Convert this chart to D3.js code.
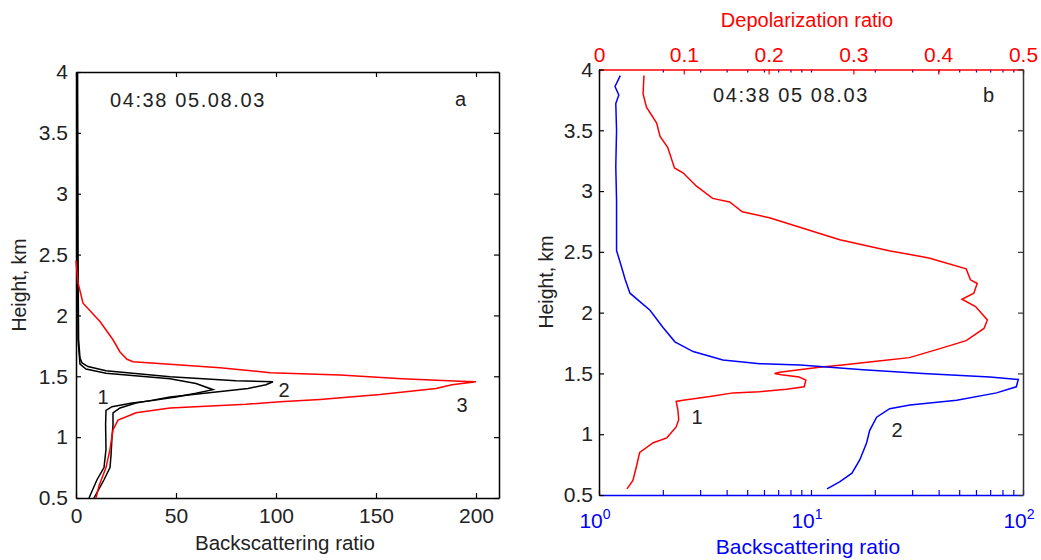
<!DOCTYPE html>
<html>
<head>
<title>Backscattering and depolarization profiles</title>
<script src="https://cdn.jsdelivr.net/npm/d3@7"></script>
<style>
  body { margin: 0; background: #fff; }
  svg text { font-family: "Liberation Sans", Arial, sans-serif; }
  .tick line { stroke-width: 1.2; }
</style>
</head>
<body>
<div id="chart"></div>
<script>
// ---- panel a: backscattering ratio profiles (linear) ----
var heightTicks = [0.5, 1, 1.5, 2, 2.5, 3, 3.5, 4];
var bsrTicks = [0, 50, 100, 150, 200];

var curve1H = [4.0, 2.5, 1.8, 1.7, 1.6, 1.56, 1.525, 1.48, 1.44, 1.39, 1.36, 1.33, 1.30, 1.28, 1.25, 1.22, 1.1, 0.9, 0.75, 0.65, 0.5];
var curve1X = [0.6, 0.8, 1, 1.5, 2, 5, 15, 47, 60, 68.5, 60, 50, 38, 28, 18, 15, 14.8, 15, 14, 10.5, 6.5];

var curve2H = [4.0, 2.5, 1.8, 1.65, 1.61, 1.58, 1.546, 1.497, 1.464, 1.455, 1.43, 1.4, 1.37, 1.33, 1.3, 1.28, 1.24, 1.2, 1.1, 1.0, 0.85, 0.75, 0.65, 0.59, 0.5];
var curve2X = [0.8, 1.0, 1.3, 2, 3, 6, 15, 47, 80, 98.5, 95, 86, 70, 47, 37, 30, 22, 18.5, 18.5, 18, 17.5, 17, 14, 12, 9];

var curve3H = [2.45, 2.27, 2.1, 1.95, 1.8, 1.7, 1.64, 1.62, 1.6, 1.57, 1.53, 1.51, 1.48, 1.46, 1.455, 1.43, 1.40, 1.35, 1.31, 1.29, 1.27, 1.24, 1.2, 1.18, 1.14, 1.06, 0.9, 0.75, 0.6, 0.5];
var curve3X = [0, 1, 3.5, 12, 18.5, 22, 25.5, 28.5, 45, 72, 97, 132, 163, 192, 200, 188, 180, 152, 122, 102, 85, 47, 30, 27, 21, 18.5, 17, 15, 11.5, 10];

// ---- panel b: backscattering ratio (log) and depolarization ratio ----
var logTicks = [1, 10, 100];
var depolTicks = [0, 0.1, 0.2, 0.3, 0.4, 0.5];

var bsrH = [3.95, 3.86, 3.79, 3.72, 3.5, 3.2, 2.93, 2.51, 2.41, 2.27, 2.16, 2.02, 1.88, 1.76, 1.68, 1.61, 1.58, 1.57, 1.53, 1.50, 1.47, 1.45, 1.39, 1.34, 1.28, 1.24, 1.21, 1.14, 1.03, 0.93, 0.79, 0.68, 0.61, 0.55];
var bsrX = [1.26, 1.19, 1.24, 1.20, 1.21, 1.20, 1.21, 1.21, 1.26, 1.33, 1.40, 1.74, 2.0, 2.28, 2.78, 3.84, 5.74, 8.9, 17.6, 33.7, 69.8, 95, 93, 75, 48.7, 29.3, 23.5, 20.4, 18.9, 18.3, 17, 15.6, 13.7, 11.9];

var depH = [3.95, 3.80, 3.69, 3.56, 3.45, 3.36, 3.19, 3.15, 3.04, 2.94, 2.91, 2.83, 2.78, 2.71, 2.60, 2.51, 2.45, 2.36, 2.27, 2.24, 2.16, 2.11, 2.05, 1.94, 1.87, 1.77, 1.71, 1.63, 1.60, 1.57, 1.55, 1.53, 1.51, 1.50, 1.49, 1.47, 1.445, 1.39, 1.37, 1.35, 1.34, 1.31, 1.28, 1.27, 1.20, 1.12, 1.06, 0.97, 0.93, 0.85, 0.73, 0.62, 0.55];
var depX = [0.053, 0.052, 0.056, 0.068, 0.072, 0.081, 0.089, 0.099, 0.115, 0.134, 0.154, 0.169, 0.201, 0.233, 0.284, 0.342, 0.389, 0.433, 0.438, 0.446, 0.442, 0.428, 0.444, 0.458, 0.454, 0.433, 0.405, 0.366, 0.327, 0.287, 0.26, 0.236, 0.213, 0.207, 0.215, 0.236, 0.244, 0.242, 0.221, 0.189, 0.158, 0.131, 0.099, 0.091, 0.093, 0.094, 0.091, 0.080, 0.064, 0.048, 0.044, 0.040, 0.033];

var width = 1041, height = 560;
var fmt = d3.format("~g");

var svg = d3.select("#chart").append("svg")
  .attr("width", width)
  .attr("height", height);

function pairs(hs, xs) {
  return hs.map(function(h, i) { return { h: h, v: xs[i] }; });
}

// ================= panel a =================
var xa = d3.scaleLinear().domain([0, 211.5]).range([76, 499]);
var ya = d3.scaleLinear().domain([0.5, 4]).range([498, 72]);

var ga = svg.append("g");

ga.append("g").attr("transform", "translate(0,498)")
  .call(d3.axisBottom(xa).tickValues(bsrTicks).tickSize(-5).tickSizeOuter(0).tickPadding(10).tickFormat(fmt));
ga.append("g").attr("transform", "translate(0,72)")
  .call(d3.axisTop(xa).tickValues(bsrTicks).tickSize(-5).tickSizeOuter(0).tickFormat(""));
ga.append("g").attr("transform", "translate(76,0)")
  .call(d3.axisLeft(ya).tickValues(heightTicks).tickSize(-5).tickSizeOuter(0).tickPadding(8).tickFormat(fmt));
ga.append("g").attr("transform", "translate(499,0)")
  .call(d3.axisRight(ya).tickValues(heightTicks).tickSize(-5).tickSizeOuter(0).tickFormat(""));

ga.selectAll(".domain").attr("stroke", "#000").attr("stroke-width", 1.5);
ga.selectAll(".tick line").attr("stroke", "#000");
ga.selectAll(".tick text").attr("fill", "#222").style("font-size", "21px").attr("font-family", null);

var lineA = d3.line().x(function(d) { return xa(d.v); }).y(function(d) { return ya(d.h); });

[[curve1H, curve1X, "#000"], [curve2H, curve2X, "#000"], [curve3H, curve3X, "#ff0000"]].forEach(function(c) {
  ga.append("path")
    .datum(pairs(c[0], c[1]))
    .attr("fill", "none")
    .attr("stroke", c[2])
    .attr("stroke-width", 1.5)
    .attr("d", lineA);
});

ga.append("text").attr("x", 110).attr("y", 107)
  .style("font-size", "20px").style("letter-spacing", "1.6px").attr("fill", "#222")
  .text("04:38 05.08.03");
ga.append("text").attr("x", 455).attr("y", 106)
  .style("font-size", "20px").attr("fill", "#222").text("a");

ga.append("text").attr("x", 103).attr("y", 404).attr("text-anchor", "middle")
  .style("font-size", "20px").attr("fill", "#222").text("1");
ga.append("text").attr("x", 284).attr("y", 397).attr("text-anchor", "middle")
  .style("font-size", "20px").attr("fill", "#222").text("2");
ga.append("text").attr("x", 462).attr("y", 412).attr("text-anchor", "middle")
  .style("font-size", "20px").attr("fill", "#222").text("3");

ga.append("text").attr("x", 285).attr("y", 550).attr("text-anchor", "middle")
  .style("font-size", "20.5px").attr("fill", "#222").text("Backscattering ratio");
ga.append("text").attr("transform", "translate(26,285) rotate(-90)").attr("text-anchor", "middle")
  .style("font-size", "19.5px").attr("fill", "#222").text("Height, km");

// ================= panel b =================
var xb = d3.scaleLog().domain([1, 100]).range([599, 1023]);
var xd = d3.scaleLinear().domain([0, 0.5]).range([599, 1023]);
var yb = d3.scaleLinear().domain([0.5, 4]).range([495, 69.5]);

var gb = svg.append("g");

// bottom: log axis in blue
var bAxis = gb.append("g").attr("transform", "translate(0,495)")
  .call(d3.axisBottom(xb).tickSize(-5).tickSizeOuter(0).tickFormat(""));
bAxis.selectAll(".domain").attr("stroke", "#0000ff").attr("stroke-width", 1.5);
bAxis.selectAll(".tick line").attr("stroke", "#0000ff");

// top: depolarization axis in red, with mirrored blue log ticks
var tLog = gb.append("g").attr("transform", "translate(0,69.5)")
  .call(d3.axisTop(xb).tickSize(-3).tickSizeOuter(0).tickFormat(""));
tLog.selectAll(".domain").remove();
tLog.selectAll(".tick line").attr("stroke", "#0000ff");

var tAxis = gb.append("g").attr("transform", "translate(0,69.5)")
  .call(d3.axisTop(xd).tickValues(depolTicks).tickSize(-5).tickSizeOuter(0).tickPadding(8).tickFormat(fmt));
tAxis.selectAll(".domain").attr("stroke", "#ff0000").attr("stroke-width", 1.5);
tAxis.selectAll(".tick line").attr("stroke", "#ff0000");
tAxis.selectAll(".tick text").attr("fill", "#ff0000").style("font-size", "21px").attr("font-family", null);

var lAxis = gb.append("g").attr("transform", "translate(599,0)")
  .call(d3.axisLeft(yb).tickValues(heightTicks).tickSize(-5).tickSizeOuter(0).tickPadding(6).tickFormat(fmt));
lAxis.selectAll(".domain").attr("stroke", "#000").attr("stroke-width", 1.5);
lAxis.selectAll(".tick line").attr("stroke", "#000");
lAxis.selectAll(".tick text").attr("fill", "#222").style("font-size", "21px").attr("font-family", null);

var rAxis = gb.append("g").attr("transform", "translate(1023,0)")
  .call(d3.axisRight(yb).tickValues(heightTicks).tickSize(-5).tickSizeOuter(0).tickFormat(""));
rAxis.selectAll(".domain").attr("stroke", "#333").attr("stroke-width", 1.5);
rAxis.selectAll(".tick line").attr("stroke", "#333");

// log tick labels 10^n
var lbl = gb.selectAll(".loglbl").data(logTicks).enter().append("text")
  .attr("class", "loglbl")
  .attr("x", function(d) { return xb(d) - 4; })
  .attr("y", 528)
  .attr("text-anchor", "middle")
  .attr("fill", "#0000ff")
  .style("font-size", "21px");
lbl.append("tspan").text("10");
lbl.append("tspan").attr("dy", -9).style("font-size", "14px")
  .text(function(d) { return String(Math.round(Math.log10(d))); });

var lineB = d3.line().x(function(d) { return xb(d.v); }).y(function(d) { return yb(d.h); });
var lineD = d3.line().x(function(d) { return xd(d.v); }).y(function(d) { return yb(d.h); });

gb.append("path").datum(pairs(depH, depX))
  .attr("fill", "none").attr("stroke", "#ff0000").attr("stroke-width", 1.5).attr("d", lineD);
gb.append("path").datum(pairs(bsrH, bsrX))
  .attr("fill", "none").attr("stroke", "#0000ff").attr("stroke-width", 1.5).attr("d", lineB);

gb.append("text").attr("x", 713).attr("y", 102)
  .style("font-size", "20px").style("letter-spacing", "1.6px").attr("fill", "#222")
  .text("04:38 05 08.03");
gb.append("text").attr("x", 983).attr("y", 102)
  .style("font-size", "20px").attr("fill", "#222").text("b");

gb.append("text").attr("x", 697).attr("y", 424).attr("text-anchor", "middle")
  .style("font-size", "20px").attr("fill", "#222").text("1");
gb.append("text").attr("x", 897).attr("y", 437).attr("text-anchor", "middle")
  .style("font-size", "20px").attr("fill", "#222").text("2");

gb.append("text").attr("x", 807).attr("y", 27).attr("text-anchor", "middle")
  .style("font-size", "20px").attr("fill", "#ff0000").text("Depolarization ratio");
gb.append("text").attr("x", 808).attr("y", 554).attr("text-anchor", "middle")
  .style("font-size", "21px").attr("fill", "#0000ff").text("Backscattering ratio");
gb.append("text").attr("transform", "translate(553,282) rotate(-90)").attr("text-anchor", "middle")
  .style("font-size", "19.5px").attr("fill", "#222").text("Height, km");
</script>
</body>
</html>
